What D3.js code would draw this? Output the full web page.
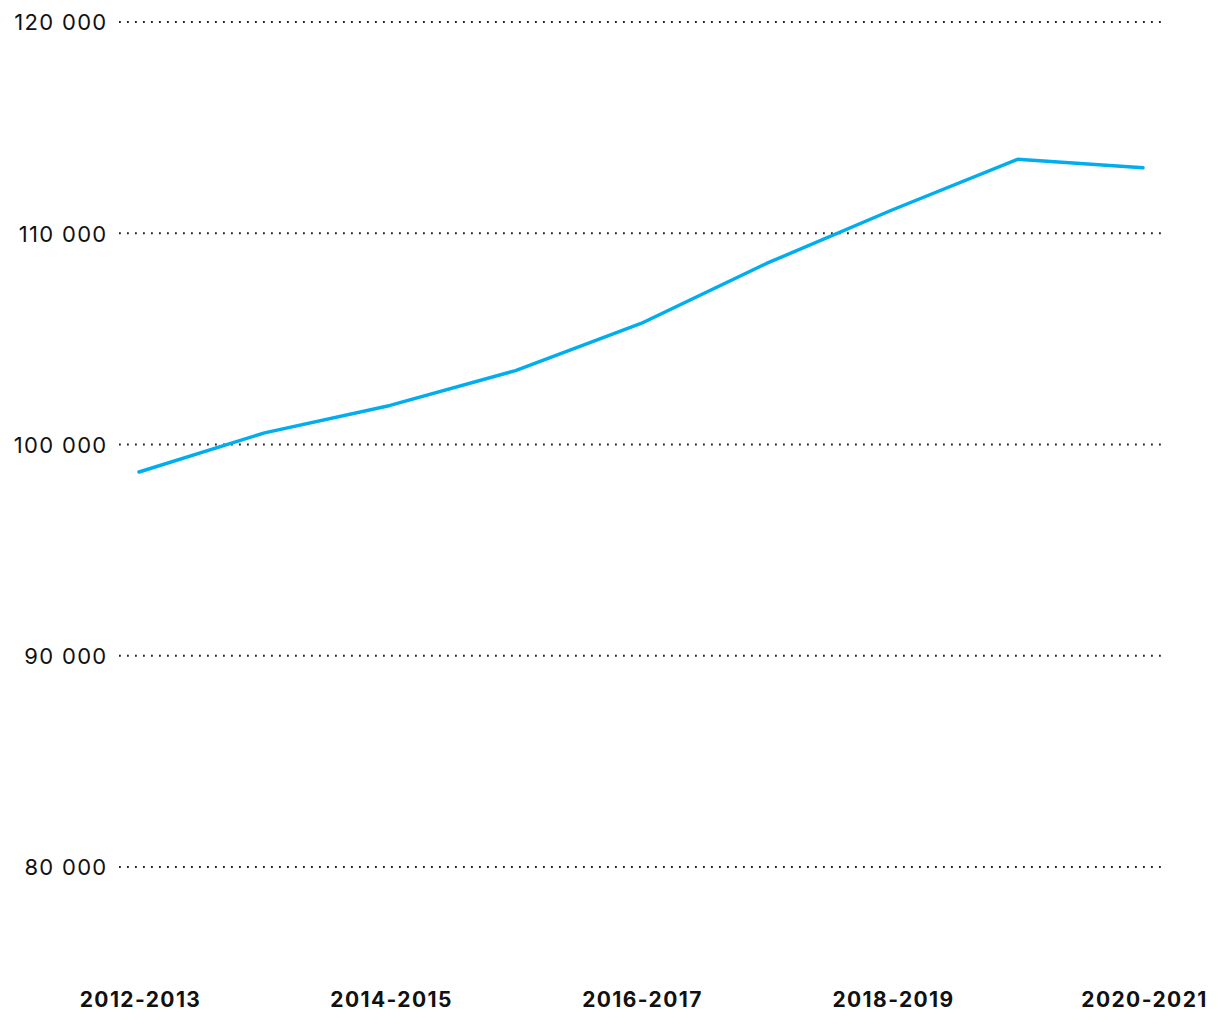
<!DOCTYPE html>
<html><head><meta charset="utf-8">
<script src="https://cdn.jsdelivr.net/npm/d3@7"></script>
<style>body{margin:0;background:#fff;}svg{display:block;font-family:Inter,"Open Sans",sans-serif;}</style>
</head><body>
<svg id="c" width="1220" height="1020"></svg>
<script>
const categories = ["2012-2013","2013-2014","2014-2015","2015-2016","2016-2017","2017-2018","2018-2019","2019-2020","2020-2021"];
const values = [98700, 100550, 101850, 103500, 105730, 108570, 111100, 113500, 113100];
const yTicks = [80000, 90000, 100000, 110000, 120000];
const xTickLabels = ["2012-2013","2014-2015","2016-2017","2018-2019","2020-2021"];

const svg = d3.select("#c");
const x = d3.scalePoint().domain(categories).range([139, 1143]);
const y = d3.scaleLinear().domain([80000, 120000]).range([867, 22]);
const fmt = v => d3.format(",")(v).replace(/,/g, " ");

// y labels
const yAxis = d3.axisLeft(y).tickValues(yTicks).tickFormat(fmt).tickSize(0).tickPadding(0);
const gy = svg.append("g").attr("transform","translate(107.5,0)").call(yAxis);
gy.select(".domain").remove();
gy.selectAll("text").attr("font-size", 22).attr("letter-spacing", "1.3px").attr("fill", "#111")
  .attr("font-family","Inter, sans-serif").attr("dy","0.36em");

// gridlines
svg.append("g").selectAll("line").data(yTicks).join("line")
  .attr("x1", 119).attr("x2", 1162)
  .attr("y1", d => y(d)).attr("y2", d => y(d))
  .attr("stroke", "#222").attr("stroke-width", 1.8)
  .attr("stroke-dasharray", "1.8 6.2").attr("stroke-linecap","butt");

// x axis
const xAxis = d3.axisBottom(x).tickValues(xTickLabels).tickSize(0).tickPadding(0);
const gx = svg.append("g").attr("transform","translate(1,992)").call(xAxis);
gx.select(".domain").remove();
gx.selectAll("text").attr("font-size", 21).attr("font-weight", 700).attr("letter-spacing","1.4px")
  .attr("fill","#111").attr("font-family","Inter, sans-serif").attr("dy","0.71em");

// line
const line = d3.line().x((d,i) => x(categories[i])).y(d => y(d));
svg.append("path").datum(values).attr("d", line)
  .attr("fill","none").attr("stroke","#00AEEF").attr("stroke-width",3.5)
  .attr("stroke-linejoin","round").attr("stroke-linecap","round");
</script>
</body></html>
